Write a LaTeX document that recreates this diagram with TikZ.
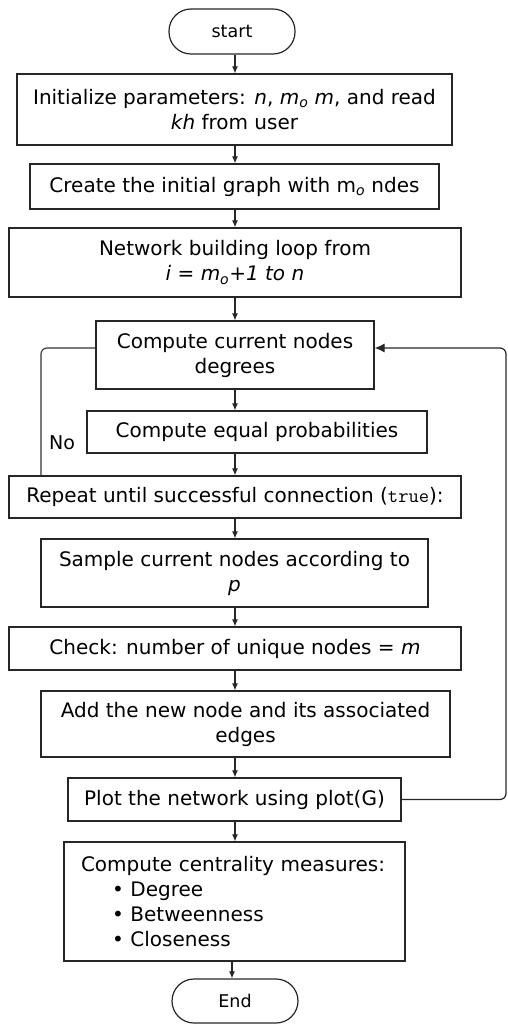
\documentclass[tikz,border=0pt]{standalone}
\usepackage{fontspec}
\setmainfont{DejaVu Sans}
\usetikzlibrary{arrows.meta}
\begin{document}
\begin{tikzpicture}[x=1pt,y=-1pt,
  box/.style={draw=black!85, line width=1.2pt, align=center, inner sep=0pt,
    font=\fontsize{20}{25}\selectfont},
  term/.style={box, rounded corners=22pt, font=\fontsize{17.5}{22}\selectfont},
  arr/.style={draw=black!85, line width=1.1pt, -{Latex[length=7pt,width=6pt]}},
  backarr/.style={draw=black!85, line width=1.2pt, rounded corners=6pt, -{Latex[length=10pt,width=9pt]}},
  loopline/.style={draw=black!80, line width=1.1pt, rounded corners=6pt},
  lbl/.style={font=\fontsize{19}{24}\selectfont, inner sep=0pt}]
\useasboundingbox (0,0) rectangle (507,1024);
\node[term, minimum width=126pt, minimum height=45pt] (start) at (232,31.5) {start};
\node[box, minimum width=435pt, minimum height=71pt] (b1) at (234.5,109.5)
  {Initialize parameters: \textit{n}, \textit{m}\textsubscript{\textit{o}} \textit{m}, and read\\ \textit{kh} from user};
\node[box, minimum width=409pt, minimum height=45pt] (b2) at (234.5,186.5)
  {Create the initial graph with m\textsubscript{\textit{o}} ndes};
\node[box, minimum width=452pt, minimum height=69pt] (b3) at (235,262.5)
  {Network building loop from\\ \textit{i} = \textit{m\textsubscript{o}+1 to n}};
\node[box, minimum width=278pt, minimum height=68pt] (b4) at (235,355)
  {Compute current nodes\\ degrees};
\node[box, minimum width=340pt, minimum height=42pt] (b5) at (257,432)
  {Compute equal probabilities};
\node[box, minimum width=452pt, minimum height=42pt] (b6) at (235,497)
  {Repeat until successful connection ({\ttfamily true}):};
\node[box, minimum width=387pt, minimum height=68pt] (b7) at (234.5,573)
  {Sample current nodes according to\\ \textit{p}};
\node[box, minimum width=452pt, minimum height=43pt] (b8) at (235,648.5)
  {Check: number of unique nodes = \textit{m}};
\node[box, minimum width=409pt, minimum height=66pt] (b9) at (245.5,724)
  {Add the new node and its associated\\ edges};
\node[box, minimum width=333pt, minimum height=43pt] (b10) at (234.5,799.5)
  {Plot the network using plot(G)};
\node[box, minimum width=341pt, minimum height=119pt, align=left, text width=307pt, inner xsep=17pt] (b11) at (234.5,901.5)
  {Compute centrality measures:\\
   \hspace*{31pt}•\ Degree\\
   \hspace*{31pt}•\ Betweenness\\
   \hspace*{31pt}•\ Closeness};
\node[term, minimum width=126pt, minimum height=44pt] (end) at (235,1001) {End};
\node[lbl] (no) at (62,443) {No};

\coordinate (col) at (235,0);
\coordinate (ecol) at (232,0);
\coordinate (lx) at (41,0);
\coordinate (rx) at (506,0);
\coordinate (b4w) at ([yshift=7pt]b4.west);
\coordinate (b4e) at ([yshift=7pt]b4.east);

\draw[arr] (start.south -| col) -- (b1.north -| col);
\draw[arr] (b1.south -| col) -- (b2.north -| col);
\draw[arr] (b2.south -| col) -- (b3.north -| col);
\draw[arr] (b3.south -| col) -- (b4.north -| col);
\draw[arr] (b4.south -| col) -- (b5.north -| col);
\draw[arr] (b5.south -| col) -- (b6.north -| col);
\draw[arr] (b6.south -| col) -- (b7.north -| col);
\draw[arr] (b7.south -| col) -- (b8.north -| col);
\draw[arr] (b8.south -| col) -- (b9.north -| col);
\draw[arr] (b9.south -| col) -- (b10.north -| col);
\draw[arr] (b10.south -| col) -- (b11.north -| col);
\draw[arr] (b11.south -| ecol) -- (end.north -| ecol);

\draw[loopline] (b4w) -- (b4w -| lx) -- (b6.north -| lx);
\draw[backarr] (b10.east) -- (b10.east -| rx) -- (rx |- b4e) -- (b4e);
\end{tikzpicture}
\end{document}
